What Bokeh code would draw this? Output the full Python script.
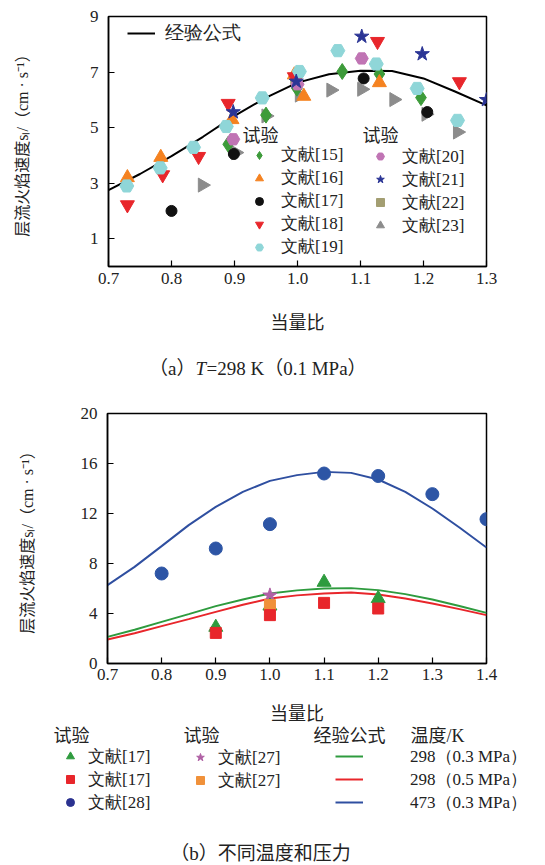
import numpy as np
from bokeh.plotting import figure
from bokeh.layouts import column
from bokeh.models import (Legend, LegendItem, FixedTicker, PrintfTickFormatter,
                          Label, Range1d)
from bokeh.embed import file_html
from bokeh.resources import INLINE

# ---------------- data: panel (a) ----------------
a_x_ticks = [0.7, 0.8, 0.9, 1.0, 1.1, 1.2, 1.3]
a_y_ticks = [1, 3, 5, 7, 9]

a_curve_phi = [0.70, 0.75, 0.80, 0.85, 0.90, 0.95, 1.00, 1.05, 1.10, 1.15, 1.20, 1.25, 1.30]
a_curve_sl = [2.75, 3.33, 3.97, 4.67, 5.42, 6.08, 6.62, 6.92, 7.05, 7.04, 6.77, 6.30, 5.80]

ref15_phi = [0.890, 0.950, 0.999, 1.071, 1.130, 1.196]
ref15_sl = [4.40, 5.45, 6.42, 7.02, 6.93, 6.08]
ref16_phi = [0.730, 0.783, 0.896, 0.995, 1.010, 1.130]
ref16_sl = [3.20, 3.93, 5.29, 6.90, 6.13, 6.62]
ref17_phi = [0.800, 0.899, 1.105, 1.206]
ref17_sl = [2.00, 4.05, 6.77, 5.56]
ref18_phi = [0.730, 0.786, 0.843, 0.890, 0.995, 1.127, 1.257]
ref18_sl = [2.22, 3.30, 3.96, 5.87, 6.83, 8.10, 6.65]
ref19_phi = [0.729, 0.782, 0.835, 0.887, 0.944, 1.003, 1.064, 1.125, 1.190, 1.254]
ref19_sl = [2.90, 3.55, 4.29, 5.04, 6.07, 7.02, 7.77, 7.29, 6.41, 5.26]
ref20_phi = [0.898, 1.000, 1.102]
ref20_sl = [4.58, 6.56, 7.49]
ref21_phi = [0.898, 0.998, 1.102, 1.198, 1.300]
ref21_sl = [5.56, 6.66, 8.28, 7.65, 6.00]
ref22_phi = [0.998]
ref22_sl = [6.75]
ref23_phi = [0.849, 0.902, 0.950, 1.003, 1.053, 1.102, 1.153, 1.204, 1.254]
ref23_sl = [2.93, 4.10, 5.42, 6.17, 6.35, 6.38, 6.01, 5.48, 4.84]

# ---------------- data: panel (b) ----------------
b_x_ticks = [0.7, 0.8, 0.9, 1.0, 1.1, 1.2, 1.3, 1.4]
b_y_ticks = [0, 4, 8, 12, 16, 20]

b_curve_phi = [0.70, 0.75, 0.80, 0.85, 0.90, 0.95, 1.00, 1.05, 1.10, 1.15, 1.20, 1.25, 1.30, 1.35, 1.40]
b_curve_298_03 = [2.13, 2.70, 3.33, 3.95, 4.59, 5.12, 5.60, 5.85, 6.00, 6.03, 5.87, 5.55, 5.12, 4.60, 4.05]
b_curve_298_05 = [1.92, 2.42, 2.99, 3.55, 4.13, 4.70, 5.20, 5.45, 5.60, 5.68, 5.52, 5.20, 4.80, 4.35, 3.87]
b_curve_473_03 = [6.27, 7.73, 9.39, 11.07, 12.53, 13.73, 14.61, 15.07, 15.33, 15.25, 14.72, 13.73, 12.40, 10.88, 9.28]

b17a_phi = [0.9, 1.0, 1.1, 1.2]
b17a_sl = [2.90, 4.60, 6.50, 5.20]
b17b_phi = [0.9, 1.0, 1.1, 1.2]
b17b_sl = [2.45, 3.87, 4.85, 4.40]
b28_phi = [0.8, 0.9, 1.0, 1.1, 1.2, 1.3, 1.4]
b28_sl = [7.20, 9.20, 11.15, 15.20, 15.00, 13.55, 11.55]
b27a_phi = [1.0]
b27a_sl = [5.45]
b27b_phi = [1.0]
b27b_sl = [4.67]

# colours
C15, C16, C17, C18, C19 = "#3d9b3a", "#f58220", "#111111", "#e8262b", "#8fd6d8"
C20, C21, C22, C23 = "#c074b4", "#2b3595", "#a39e72", "#8c8c8c"
CG, CR, CB = "#2e9b3e", "#e8262b", "#2f4fa0"
CB_PT, C27S, C27Q = "#2d55a5", "#b061a5", "#f0913a"

FONT = "Liberation Serif, Noto Sans CJK SC"
LFONT = "Liberation Serif"
TXT = "#222222"
YLABEL = "层流火焰速度sₗ/（cm · s⁻¹）"


def style(p, xt, yt, ylab_standoff, xlab_standoff, xtick_standoff):
    p.xgrid.visible = False
    p.ygrid.visible = False
    p.outline_line_color = "black"
    p.outline_line_width = 1.5
    p.background_fill_color = "white"
    p.border_fill_color = "white"
    for ax in (p.xaxis[0], p.yaxis[0]):
        ax.axis_line_color = "black"
        ax.axis_line_width = 1.5
        ax.major_tick_in = 6
        ax.major_tick_out = 0
        ax.major_tick_line_color = "black"
        ax.major_tick_line_width = 1.2
        ax.minor_tick_line_color = None
        ax.major_label_text_font = "Liberation Serif"
        ax.major_label_text_font_size = "17px"
        ax.major_label_text_color = TXT
        ax.axis_label_text_font = FONT
        ax.axis_label_text_font_style = "normal"
        ax.axis_label_text_color = TXT
    p.xaxis[0].ticker = FixedTicker(ticks=xt)
    p.yaxis[0].ticker = FixedTicker(ticks=yt)
    p.xaxis[0].formatter = PrintfTickFormatter(format="%.1f")
    p.xaxis[0].major_label_standoff = xtick_standoff
    p.yaxis[0].major_label_standoff = 10
    p.xaxis[0].axis_label = "当量比"
    p.xaxis[0].axis_label_text_font_size = "18px"
    p.xaxis[0].axis_label_standoff = xlab_standoff
    p.yaxis[0].axis_label = YLABEL
    p.yaxis[0].axis_label_text_font_size = "16px"
    p.yaxis[0].axis_label_standoff = ylab_standoff


def make_legend(items, x, y, gw=20, standoff=12, size="17px"):
    return Legend(items=items, location=(x, y), orientation="vertical",
                  padding=0, margin=0, spacing=0, glyph_width=gw,
                  glyph_height=22, label_height=22, label_standoff=standoff,
                  label_text_font=LFONT, label_text_font_size=size,
                  label_text_color=TXT, inactive_fill_alpha=0,
                  border_line_color=None, background_fill_alpha=0)


def text_label(text, x, y, size="17px", align="left", style_="normal", font=FONT):
    return Label(x=x, y=y, x_units="screen", y_units="screen", text=text,
                 text_font=font, text_font_size=size, text_color=TXT,
                 text_font_style=style_,
                 text_baseline="middle", text_align=align)


def blank(height):
    # keys-only panel: its ranges keep the key renderers' points out of view
    f = figure(width=545, height=height, output_backend="svg", toolbar_location=None,
               x_range=Range1d(10, 20), y_range=Range1d(100, 200),
               x_axis_type=None, y_axis_type=None, min_border=0,
               min_border_left=0, min_border_right=0, min_border_top=0,
               min_border_bottom=0)
    f.outline_line_color = None
    f.xgrid.visible = False
    f.ygrid.visible = False
    return f


# ================= panel (a) =================
pa = figure(width=545, height=345, output_backend="svg", toolbar_location=None,
            x_range=Range1d(0.7, 1.3), y_range=Range1d(0, 9),
            min_border_left=108, min_border_right=59, min_border_top=16,
            min_border_bottom=79)
style(pa, a_x_ticks, a_y_ticks, 56, 26, 6)

r_curve = pa.line(a_curve_phi, a_curve_sl, line_color="black", line_width=2)
r23 = pa.scatter(ref23_phi, ref23_sl, marker="triangle", angle=-np.pi / 2,
                 size=14, color=C23)
r22 = pa.scatter(ref22_phi, ref22_sl, marker="square", size=11, color=C22)
r15 = pa.scatter(ref15_phi, ref15_sl, marker="diamond", size=16, color=C15)
r16 = pa.scatter(ref16_phi, ref16_sl, marker="triangle", size=14, color=C16)
r17 = pa.scatter(ref17_phi, ref17_sl, marker="circle", size=11, color=C17)
r18 = pa.scatter(ref18_phi, ref18_sl, marker="inverted_triangle", size=14, color=C18)
r19 = pa.scatter(ref19_phi, ref19_sl, marker="hex", size=14, color=C19)
r20 = pa.scatter(ref20_phi, ref20_sl, marker="hex", size=13, color=C20)
r21 = pa.scatter(ref21_phi, ref21_sl, marker="star", size=15, color=C21)

la1 = make_legend([LegendItem(label="文献[15]", renderers=[r15]),
                   LegendItem(label="文献[16]", renderers=[r16]),
                   LegendItem(label="文献[17]", renderers=[r17]),
                   LegendItem(label="文献[18]", renderers=[r18]),
                   LegendItem(label="文献[19]", renderers=[r19])], 141, 8)
la2 = make_legend([LegendItem(label="文献[20]", renderers=[r20]),
                   LegendItem(label="文献[21]", renderers=[r21]),
                   LegendItem(label="文献[22]", renderers=[r22]),
                   LegendItem(label="文献[23]", renderers=[r23])], 262, 29.5)
la3 = make_legend([LegendItem(label="经验公式", renderers=[r_curve])], 19, 221,
                  gw=28, standoff=10, size="18.5px")
for lg in (la1, la2, la3):
    pa.add_layout(lg)
pa.add_layout(text_label("试验", 134, 131, size="18px"))
pa.add_layout(text_label("试验", 254, 131, size="18px"))

# ================= caption (a) =================
capa = blank(45)
capa.add_layout(text_label("（a）", 195, 22, size="19px", align="right"))
capa.add_layout(text_label("T", 195, 22, size="19px", style_="italic",
                           font="Liberation Serif"))
capa.add_layout(text_label("=298 K（0.1 MPa）", 206, 22, size="19px"))

# ================= panel (b) =================
pb = figure(width=545, height=336, output_backend="svg", toolbar_location=None,
            x_range=Range1d(0.7, 1.4), y_range=Range1d(0, 20),
            min_border_left=107, min_border_right=59, min_border_top=23,
            min_border_bottom=63)
style(pb, b_x_ticks, b_y_ticks, 42, 21, 5)

pb.line(b_curve_phi, b_curve_473_03, line_color=CB, line_width=2)
pb.line(b_curve_phi, b_curve_298_03, line_color=CG, line_width=2)
pb.line(b_curve_phi, b_curve_298_05, line_color=CR, line_width=2)
pb.scatter(b28_phi, b28_sl, marker="circle", size=13, color=CB_PT)
pb.scatter(b27a_phi, b27a_sl, marker="star", size=15, color=C27S)
pb.scatter(b17a_phi, b17a_sl, marker="triangle", size=14, color=CG)
pb.scatter(b27b_phi, b27b_sl, marker="square", size=11, color=C27Q)
pb.scatter(b17b_phi, b17b_sl, marker="square", size=11, color=CR)

# ================= legend + caption (b) =================
pc = blank(139)
k17a = pc.scatter(b17a_phi, b17a_sl, marker="triangle", size=14, color=CG)
k17b = pc.scatter(b17b_phi, b17b_sl, marker="square", size=11, color=CR)
k28 = pc.scatter(b28_phi, b28_sl, marker="circle", size=13, color="#2b3290")
k27a = pc.scatter(b27a_phi, b27a_sl, marker="star", size=15, color=C27S)
k27b = pc.scatter(b27b_phi, b27b_sl, marker="square", size=11, color=C27Q)
kg = pc.line(b_curve_phi, b_curve_298_03, line_color=CG, line_width=2)
kr = pc.line(b_curve_phi, b_curve_298_05, line_color=CR, line_width=2)
kb = pc.line(b_curve_phi, b_curve_473_03, line_color=CB, line_width=2)

lb1 = make_legend([LegendItem(label="文献[17]", renderers=[k17a]),
                   LegendItem(label="文献[17]", renderers=[k17b]),
                   LegendItem(label="文献[28]", renderers=[k28])], 60, 51.5,
                  standoff=8)
lb2 = make_legend([LegendItem(label="文献[27]", renderers=[k27a]),
                   LegendItem(label="文献[27]", renderers=[k27b])], 190, 73.5,
                  standoff=8)
lb3 = make_legend([LegendItem(label="298（0.3 MPa）", renderers=[kg]),
                   LegendItem(label="298（0.5 MPa）", renderers=[kr]),
                   LegendItem(label="473（0.3 MPa）", renderers=[kb])], 335, 51.5,
                  gw=28, standoff=47)
for lg in (lb1, lb2, lb3):
    pc.add_layout(lg)
pc.add_layout(text_label("试验", 53, 130, size="18px"))
pc.add_layout(text_label("试验", 183, 130, size="18px"))
pc.add_layout(text_label("经验公式", 313, 130, size="18px"))
pc.add_layout(text_label("温度/K", 410, 130, size="18px"))
pc.add_layout(text_label("（b）不同温度和压力", 260, 12, size="19px", align="center"))

for f in (pa, capa, pb, pc):
    try:
        f.frame_align = False
    except Exception:
        pass

layout = column(pa, capa, pb, pc, spacing=0)
open("out.html", "w").write(file_html(layout, INLINE))
